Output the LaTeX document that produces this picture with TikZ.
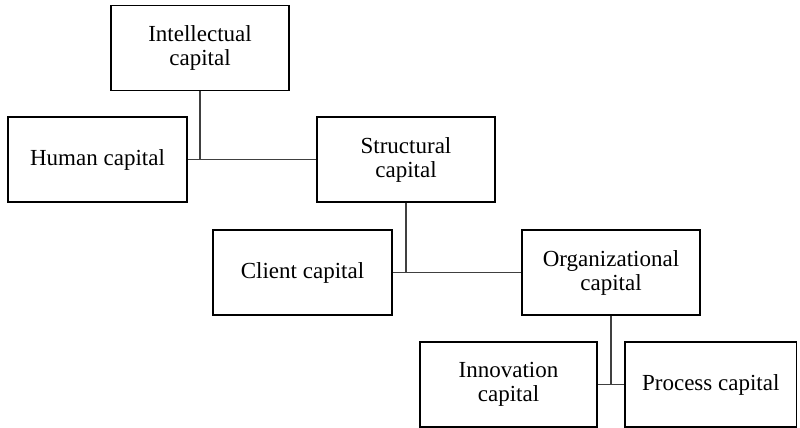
\documentclass[tikz,border=0pt]{standalone}
\usepackage{fontspec}
\setmainfont{Liberation Serif}
\begin{document}
\begin{tikzpicture}[x=1pt,y=-1pt,
  capbox/.style={draw=black,line width=1.6pt,fill=white,align=center,
    inner sep=0pt,minimum height=85pt,
    font=\fontsize{23}{24}\selectfont},
  link/.style={draw=black!75,line width=1.3pt}]
\useasboundingbox (0,0) rectangle (800,428);
% capital boxes
\node[capbox,minimum width=178pt] (intel)   at (200,48)    {Intellectual\\capital};
\node[capbox,minimum width=179pt] (human)   at (97.5,159.5) {Human capital};
\node[capbox,minimum width=178pt] (struct)  at (406,159.5) {Structural\\capital};
\node[capbox,minimum width=179pt] (client)  at (302.5,272.5) {Client capital};
\node[capbox,minimum width=178pt] (org)     at (611,272.5) {Organizational\\capital};
\node[capbox,minimum width=177pt] (innov)   at (508.5,384.5) {Innovation\\capital};
\node[capbox,minimum width=171.5pt] (process) at (710.75,384.5) {Process capital};
% junctions
\coordinate (j1) at (intel.south |- human.east);
\coordinate (j2) at (struct.south |- client.east);
\coordinate (j3) at (org.south |- innov.east);
% connectors
\draw[link] (intel.south) -- (j1);
\draw[link] (human.east) -- (struct.west);
\draw[link] (struct.south) -- (j2);
\draw[link] (client.east) -- (org.west);
\draw[link] (org.south) -- (j3);
\draw[link] (innov.east) -- (process.west);
\end{tikzpicture}
\end{document}
